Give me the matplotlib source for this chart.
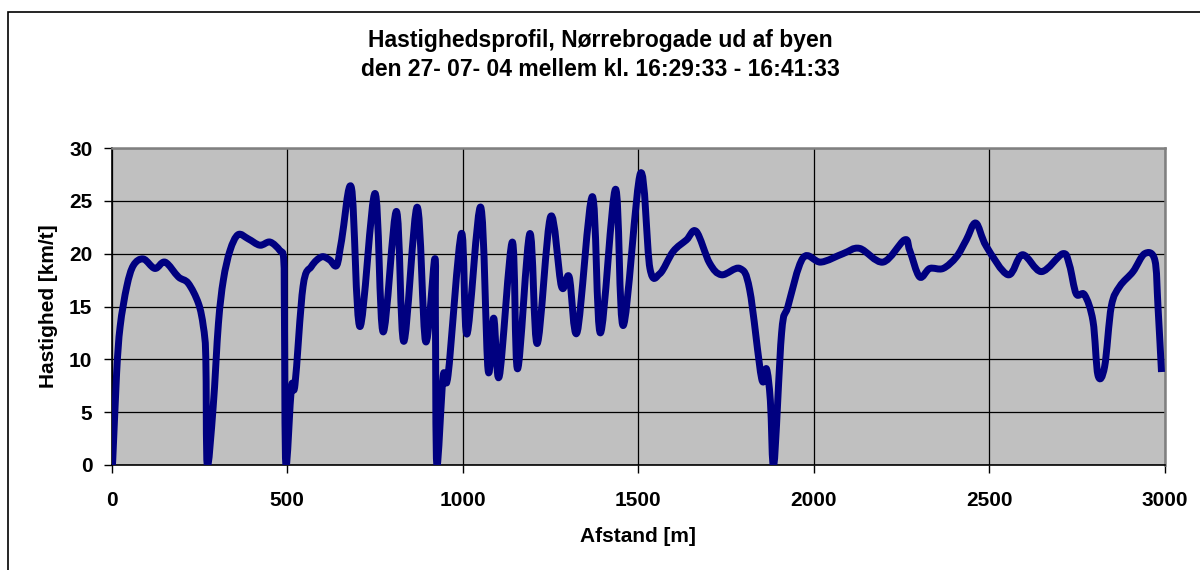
import matplotlib
matplotlib.use("Agg")
import matplotlib.pyplot as plt
from matplotlib.patches import Rectangle, PathPatch
from matplotlib.path import Path

title_lines = ["Hastighedsprofil, Nørrebrogade ud af byen",
               "den 27- 07- 04 mellem kl. 16:29:33 - 16:41:33"]
x_label = "Afstand [m]"
y_label = "Hastighed [km/t]"
x_ticks = [0, 500, 1000, 1500, 2000, 2500, 3000]
y_ticks = [0, 5, 10, 15, 20, 25, 30]

distance = [0, 3, 14, 24, 43, 62, 90, 123, 152, 190, 218, 247, 261, 268, 272,
            289, 304, 318, 337, 360, 389, 422, 451, 479, 490, 492, 496, 512, 522,
            545, 569, 598, 621, 641, 655, 683, 707, 750, 773, 811, 832, 870,
            894, 920, 922, 926, 944, 958, 996, 1012, 1051, 1072, 1088, 1104, 1141,
            1156, 1191, 1212, 1250, 1281, 1303, 1326, 1369, 1392, 1435, 1457,
            1506, 1533, 1561, 1599, 1637, 1665, 1703, 1737, 1789, 1817, 1851,
            1865, 1876, 1886, 1908, 1926, 1969, 2020, 2083, 2130, 2197, 2258,
            2273, 2301, 2330, 2368, 2406, 2434, 2461, 2491, 2553, 2594, 2648,
            2709, 2728, 2747, 2771, 2795, 2809, 2828, 2847, 2871, 2909, 2942,
            2971, 2980, 2990]
speed = [0.3, 0.5, 8.7, 13.1, 16.9, 18.9, 19.5, 18.6, 19.2, 17.8, 17.2, 15.3,
         13.1, 10.2, 0.0, 5.5, 13.4, 17.5, 20.3, 21.8, 21.4, 20.8, 21.1, 20.3,
         19.4, 14.0, 0.0, 7.4, 7.6, 16.9, 18.8, 19.7, 19.4, 18.9, 21.3, 26.2, 13.1,
         25.7, 12.6, 24.0, 11.7, 24.4, 11.7, 19.5, 14.0, 0.0, 8.4, 8.5, 21.9, 12.4,
         24.4, 9.0, 13.9, 8.4, 21.1, 9.1, 21.9, 11.5, 23.5, 16.9, 17.8, 12.6,
         25.4, 12.5, 26.1, 13.2, 27.6, 18.6, 18.1, 20.2, 21.3, 22.1, 19.1, 18.0,
         18.6, 16.6, 8.2, 9.1, 6.1, 0.0, 12.5, 15.0, 19.6, 19.2, 20.0, 20.5,
         19.2, 21.3, 20.3, 17.8, 18.6, 18.6, 19.7, 21.3, 22.9, 20.7, 18.0, 19.9,
         18.3, 20.0, 18.9, 16.2, 16.1, 13.6, 8.5, 9.3, 15.0, 16.9, 18.3, 20.0,
         19.4, 15.0, 8.8]

plt.rcParams['font.family'] = ['Liberation Sans', 'DejaVu Sans']
plt.rcParams['font.weight'] = 'bold'

fig = plt.figure(figsize=(12, 5.7), dpi=100)
fig.patch.set_facecolor('white')
fig.patches.append(Rectangle((8 / 1200, -0.1), 1.2, 1 - 12 / 570 + 0.1,
                             transform=fig.transFigure, fill=False,
                             edgecolor='black', linewidth=1.2))

ax = fig.add_axes([111.7 / 1200, 1 - 465 / 570, (1165 - 111.7) / 1200, (465 - 148) / 570])
ax.set_facecolor('#C0C0C0')
ax.set_xlim(0, 3000)
ax.set_ylim(0, 30)
ax.set_xticks(x_ticks)
ax.set_yticks(y_ticks)
ax.grid(True, color='black', linewidth=0.9)
ax.set_axisbelow(True)

# Smoothed line (Excel-style Bezier smoothing) drawn in data coordinates
n = len(distance)
verts = [(distance[0], speed[0])]
codes = [Path.MOVETO]
for i in range(n - 1):
    x0, y0 = distance[max(i - 1, 0)], speed[max(i - 1, 0)]
    x1, y1 = distance[i], speed[i]
    x2, y2 = distance[i + 1], speed[i + 1]
    x3, y3 = distance[min(i + 2, n - 1)], speed[min(i + 2, n - 1)]
    c1 = (x1 + (x2 - x0) / 6.0, y1 + (y2 - y0) / 6.0)
    c2 = (x2 - (x3 - x1) / 6.0, y2 - (y3 - y1) / 6.0)
    verts += [c1, c2, (x2, y2)]
    codes += [Path.CURVE4, Path.CURVE4, Path.CURVE4]
ax.add_patch(PathPatch(Path(verts, codes), facecolor='none', edgecolor='#000080',
                       linewidth=5, joinstyle='round', capstyle='butt',
                       transform=ax.transData, zorder=3))

for side in ['top', 'right']:
    ax.spines[side].set_color('#808080')
    ax.spines[side].set_linewidth(1.8)
for side in ['left', 'bottom']:
    ax.spines[side].set_color('black')
    ax.spines[side].set_linewidth(1.2)

ax.tick_params(axis='x', direction='out', length=6, width=1, pad=13, labelsize=15)
ax.tick_params(axis='y', direction='out', length=6, width=1, pad=8, labelsize=15)
for lbl in ax.get_xticklabels() + ax.get_yticklabels():
    lbl.set_fontweight('bold')

ax.set_xlabel(x_label, fontsize=15, fontweight='bold')
ax.set_ylabel(y_label, fontsize=15, fontweight='bold')
ax.xaxis.set_label_coords(0.5, (465 - 536) / 317)
ax.xaxis.label.set_verticalalignment('center')
ax.yaxis.set_label_coords((48 - 111.7) / 1053.3, 0.5)
ax.yaxis.label.set_verticalalignment('center')

fig.text(0.5, 1 - 41 / 570, title_lines[0], ha='center', va='center',
         fontsize=16.5, fontweight='bold')
fig.text(0.5, 1 - 70 / 570, title_lines[1], ha='center', va='center',
         fontsize=16.5, fontweight='bold')

fig.savefig('out.png', dpi=100)
